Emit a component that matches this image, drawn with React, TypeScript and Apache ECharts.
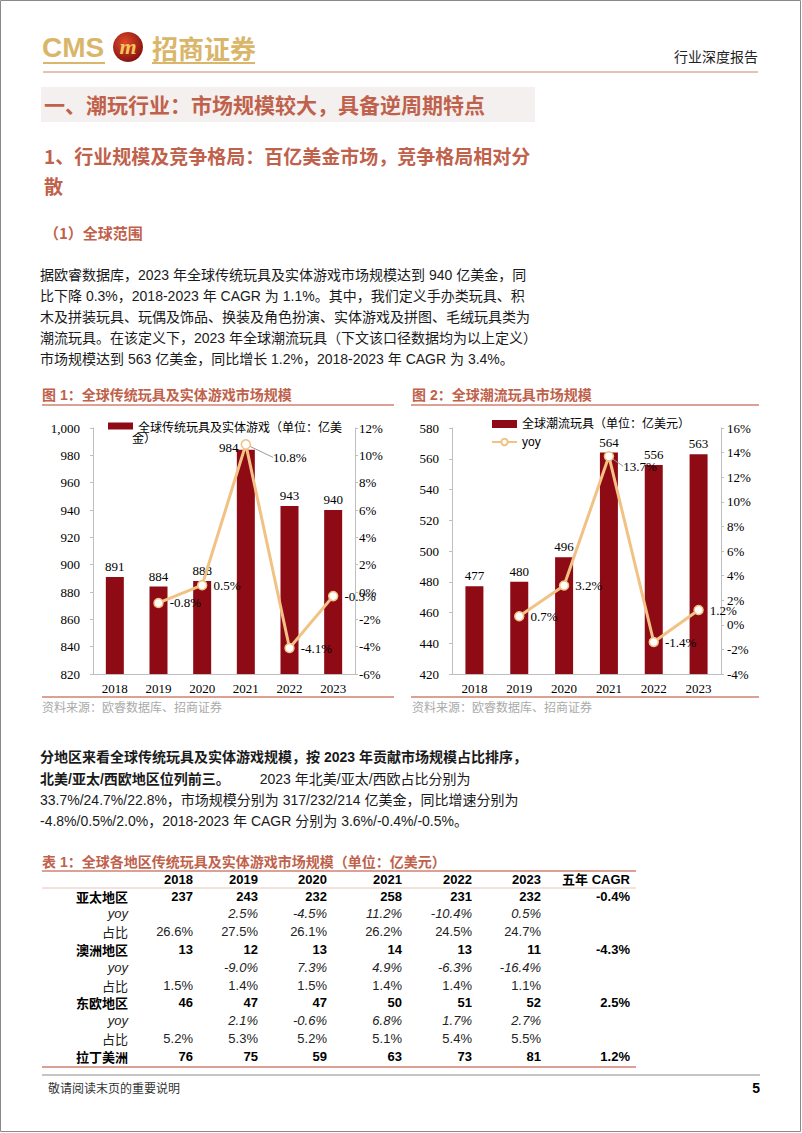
import React, { useEffect, useRef } from 'react';
import * as echarts from 'echarts';

const years = ['2018', '2019', '2020', '2021', '2022', '2023'];
const tradSize = [891, 884, 888, 984, 943, 940];
const tradYoy = [null, -0.8, 0.5, 10.8, -4.1, -0.3];
const trendSize = [477, 480, 496, 564, 556, 563];
const trendYoy = [null, 0.7, 3.2, 13.7, -1.4, 1.2];

const tableHeader = ['2018', '2019', '2020', '2021', '2022', '2023', '五年 CAGR'];
const regions = ['亚太地区', '澳洲地区', '东欧地区', '拉丁美洲'];
const regionSize = [
  [237, 243, 232, 258, 231, 232],
  [13, 12, 13, 14, 13, 11],
  [46, 47, 47, 50, 51, 52],
  [76, 75, 59, 63, 73, 81],
];
const regionYoy = [
  ['', '2.5%', '-4.5%', '11.2%', '-10.4%', '0.5%'],
  ['', '-9.0%', '7.3%', '4.9%', '-6.3%', '-16.4%'],
  ['', '2.1%', '-0.6%', '6.8%', '1.7%', '2.7%'],
];
const regionShare = [
  ['26.6%', '27.5%', '26.1%', '26.2%', '24.5%', '24.7%'],
  ['1.5%', '1.4%', '1.5%', '1.4%', '1.4%', '1.1%'],
  ['5.2%', '5.3%', '5.2%', '5.1%', '5.4%', '5.5%'],
];
const regionCagr = ['-0.4%', '-4.3%', '2.5%', '1.2%'];

const para1 = [
  '据欧睿数据库，2023 年全球传统玩具及实体游戏市场规模达到 940 亿美金，同',
  '比下降 0.3%，2018-2023 年 CAGR 为 1.1%。其中，我们定义手办类玩具、积',
  '木及拼装玩具、玩偶及饰品、换装及角色扮演、实体游戏及拼图、毛绒玩具类为',
  '潮流玩具。在该定义下，2023 年全球潮流玩具（下文该口径数据均为以上定义）',
  '市场规模达到 563 亿美金，同比增长 1.2%，2018-2023 年 CAGR 为 3.4%。',
];
const para2Bold1 = '分地区来看全球传统玩具及实体游戏规模，按 2023 年贡献市场规模占比排序，';
const para2Bold2 = '北美/亚太/西欧地区位列前三。';
const para2Norm2 = '2023 年北美/亚太/西欧占比分别为';
const para2Line3 = '33.7%/24.7%/22.8%，市场规模分别为 317/232/214 亿美金，同比增速分别为';
const para2Line4 = '-4.8%/0.5%/2.0%，2018-2023 年 CAGR 分别为 3.6%/-0.4%/-0.5%。';

const BAR1 = '全球传统玩具及实体游戏（单位：亿美金）';
const BAR2 = '全球潮流玩具（单位：亿美元）';

const FS = "'Liberation Sans','Noto Sans CJK SC',sans-serif";
const SERIF = "'Liberation Serif','Noto Sans CJK SC',serif";
const CJK = "'Noto Sans CJK SC',sans-serif";
const HEAD = '#C0614B';
const RULE = '#D08070';
const GOLD = '#D9B66A';
const BAR = '#8E0B16';
const LINE = '#F2C285';

function txt(text: string, x: number, y: number, o: any = {}) {
  return {
    type: 'text',
    silent: true,
    style: {
      text,
      x,
      y,
      fill: o.fill || '#1a1a1a',
      fontSize: o.size || 14,
      fontFamily: o.family || FS,
      fontWeight: o.weight || 'normal',
      fontStyle: o.style || 'normal',
      align: o.align || 'left',
      verticalAlign: 'middle',
      rich: o.rich,
    },
  };
}
function hline(x1: number, x2: number, y: number, color: string, w = 1) {
  return { type: 'line', silent: true, shape: { x1, y1: y, x2, y2: y }, style: { stroke: color, lineWidth: w } };
}

function buildGraphic() {
  const g: any[] = [];
  g.push({ type: 'rect', silent: true, shape: { x: 0.5, y: 0.5, width: 800, height: 1131 }, style: { fill: 'none', stroke: '#8a8a8a', lineWidth: 1 } });
  // header
  g.push(txt('CMS', 42, 47, { size: 28, weight: 'bold', fill: GOLD }));
  g.push(hline(43, 105, 63, GOLD, 2));
  g.push({
    type: 'circle', silent: true, shape: { cx: 128, cy: 47, r: 15 },
    style: { fill: new echarts.graphic.RadialGradient(0.4, 0.35, 0.75, [{ offset: 0, color: '#E04A2A' }, { offset: 1, color: '#7A0C0C' }]) },
  });
  g.push(txt('m', 128, 46, { size: 22, weight: 'bold', style: 'italic', fill: '#F2C65A', family: SERIF, align: 'center' }));
  g.push(txt('招商证券', 152, 47, { size: 26, weight: 'bold', fill: GOLD, family: CJK }));
  g.push(hline(152, 255, 63, GOLD, 2));
  g.push(txt('行业深度报告', 758, 56, { size: 14, align: 'right', fill: '#222', family: CJK }));
  g.push(hline(43, 758, 72, RULE, 1));
  // section
  g.push({ type: 'rect', silent: true, shape: { x: 41, y: 87, width: 494, height: 35 }, style: { fill: '#F4F0EF' } });
  g.push(txt('一、潮玩行业：市场规模较大，具备逆周期特点', 44, 104, { size: 21, weight: 'bold', fill: HEAD, family: CJK }));
  g.push(txt('1、行业规模及竞争格局：百亿美金市场，竞争格局相对分', 44, 155, { size: 19, weight: 'bold', fill: HEAD, family: CJK }));
  g.push(txt('散', 44, 185, { size: 19, weight: 'bold', fill: HEAD, family: CJK }));
  g.push(txt('（1）全球范围', 44, 232, { size: 15, weight: 'bold', fill: HEAD, family: CJK }));
  para1.forEach((l, i) => g.push(txt(l, 40, 275 + i * 21, { size: 14 })));
  // figure titles
  g.push(txt('图 1：全球传统玩具及实体游戏市场规模', 42, 395, { size: 14, weight: 'bold', fill: HEAD }));
  g.push(hline(42, 394, 405, RULE, 1.5));
  g.push(txt('图 2：全球潮流玩具市场规模', 412, 395, { size: 14, weight: 'bold', fill: HEAD }));
  g.push(hline(411, 759, 405, RULE, 1.5));
  g.push(txt('金）', 132, 437, { size: 12, fill: '#000', family: CJK }));
  g.push(hline(42, 394, 697, RULE, 1.5));
  g.push(hline(411, 759, 697, RULE, 1.5));
  g.push(txt('资料来源：欧睿数据库、招商证券', 42, 706, { size: 12, fill: '#aaaaaa', family: CJK }));
  g.push(txt('资料来源：欧睿数据库、招商证券', 412, 706, { size: 12, fill: '#aaaaaa', family: CJK }));
  // paragraph 2
  g.push(txt(para2Bold1, 40, 757, { size: 14, weight: 'bold' }));
  g.push(txt('{b|' + para2Bold2 + '}{n|' + para2Norm2 + '}', 40, 779, {
    size: 14,
    rich: {
      b: { fontWeight: 'bold', fontSize: 14, fontFamily: FS, fill: '#1a1a1a' },
      n: { fontWeight: 'normal', fontSize: 14, fontFamily: FS, fill: '#1a1a1a', padding: [0, 0, 0, 30] },
    },
  }));
  g.push(txt(para2Line3, 40, 800, { size: 14 }));
  g.push(txt(para2Line4, 40, 821, { size: 14 }));
  // table
  g.push(txt('表 1：全球各地区传统玩具及实体游戏市场规模（单位：亿美元）', 42, 862, { size: 14, weight: 'bold', fill: HEAD }));
  g.push(hline(42, 636, 871, RULE, 1.5));
  const colX = [193, 258, 327, 402, 472, 541, 630];
  const labX = 128;
  tableHeader.forEach((h, i) => g.push(txt(h, colX[i], 879, { size: 13, weight: 'bold', align: 'right', fill: '#000' })));
  g.push(hline(42, 636, 888, '#E8C4B8', 1));
  let row = 0;
  const rowY = (r: number) => 896 + r * 17.8;
  regions.forEach((reg, ri) => {
    const y = rowY(row);
    g.push(txt(reg, labX, y, { size: 13, weight: 'bold', align: 'right', fill: '#000', family: CJK }));
    regionSize[ri].forEach((v, ci) => g.push(txt(String(v), colX[ci], y, { size: 13, weight: 'bold', align: 'right', fill: '#000' })));
    g.push(txt(regionCagr[ri], colX[6], y, { size: 13, weight: 'bold', align: 'right', fill: '#000' }));
    row++;
    if (ri < regionYoy.length) {
      const y2 = rowY(row);
      g.push(txt('yoy', labX, y2, { size: 13, style: 'italic', align: 'right', fill: '#222' }));
      regionYoy[ri].forEach((v, ci) => v && g.push(txt(v, colX[ci], y2, { size: 13, style: 'italic', align: 'right', fill: '#222' })));
      row++;
      const y3 = rowY(row);
      g.push(txt('占比', labX, y3, { size: 13, align: 'right', fill: '#222', family: CJK }));
      regionShare[ri].forEach((v, ci) => g.push(txt(v, colX[ci], y3, { size: 13, align: 'right', fill: '#222' })));
      row++;
    }
  });
  g.push(hline(42, 636, 1067, RULE, 1.5));
  // footer
  g.push(hline(42, 760, 1075, '#8a8a8a', 1));
  g.push(txt('敬请阅读末页的重要说明', 48, 1087, { size: 12, fill: '#333', family: CJK }));
  g.push(txt('5', 760, 1088, { size: 14, weight: 'bold', align: 'right', fill: '#000' }));
  return g;
}

const axisLabelStyle = { fontFamily: SERIF, fontSize: 13, color: '#000' };
const axisLineStyle = { show: true, onZero: false, lineStyle: { color: '#bfbfbf', width: 1 } };

function makeY(grid: number, min: number, max: number, interval: number, pos: string, pct: boolean, margin: number) {
  return {
    type: 'value', gridIndex: grid, min, max, interval, position: pos,
    axisLine: axisLineStyle,
    axisTick: { show: true, length: 3, lineStyle: { color: '#bfbfbf' } },
    splitLine: { show: false },
    axisLabel: {
      ...axisLabelStyle, margin,
      formatter: (v: number) => (pct ? v + '%' : v.toLocaleString('en-US')),
    },
  };
}

function barSeries(name: string, data: number[], axisIdx: number, special: number, offset: number[]) {
  return {
    type: 'bar', name, xAxisIndex: axisIdx, yAxisIndex: axisIdx * 2, barWidth: 18,
    itemStyle: { color: BAR },
    label: { show: true, position: 'top', distance: 4, ...axisLabelStyle },
    data: data.map((v, i) => (i === special ? { value: v, label: { offset } } : v)),
    z: 2,
  };
}

function lineSeries(name: string, data: (number | null)[], axisIdx: number, special: number, dx: number, dy: number) {
  return {
    type: 'line', name, xAxisIndex: axisIdx, yAxisIndex: axisIdx * 2 + 1,
    data: data.map((v, i) => (i === special ? { value: v, labelLine: { show: true, lineStyle: { color: '#999', width: 1 } } } : v === null ? '-' : v)),
    lineStyle: { color: LINE, width: 3 },
    symbol: 'circle', symbolSize: 9,
    itemStyle: { color: '#fff', borderColor: LINE, borderWidth: 1.5 },
    label: {
      show: true, position: 'right', distance: 6, ...axisLabelStyle,
      formatter: (p: any) => Number(p.value).toFixed(1) + '%',
    },
    labelLayout: (p: any) => (p.dataIndex === special ? { dx, dy } : {}),
    z: 5,
  };
}

const option: any = {
  animation: false,
  backgroundColor: '#fff',
  grid: [
    { left: 93, top: 428, width: 262, height: 246 },
    { left: 452, top: 428, width: 269, height: 246 },
  ],
  xAxis: [0, 1].map((gi) => ({
    type: 'category', gridIndex: gi, data: years,
    axisLine: axisLineStyle, axisTick: { show: false },
    axisLabel: { ...axisLabelStyle, margin: 8 },
  })),
  yAxis: [
    makeY(0, 820, 1000, 20, 'left', false, 13),
    makeY(0, -6, 12, 2, 'right', true, 4),
    makeY(1, 420, 580, 20, 'left', false, 13),
    makeY(1, -4, 16, 2, 'right', true, 6),
  ],
  legend: [
    {
      left: 103, top: 414, itemWidth: 25, itemHeight: 7, data: [{ name: BAR1, icon: 'rect' }],
      formatter: () => '全球传统玩具及实体游戏（单位：亿美',
      textStyle: { fontFamily: CJK, fontSize: 12, color: '#000', lineHeight: 14 },
      selectedMode: false,
    },
    {
      left: 486, top: 412, orient: 'vertical', itemGap: 4, itemWidth: 25, itemHeight: 8,
      data: [{ name: BAR2, icon: 'rect' }, { name: 'yoy' }],
      textStyle: { fontFamily: FS, fontSize: 12, color: '#000', lineHeight: 14 },
      selectedMode: false,
    },
  ],
  series: [
    barSeries(BAR1, tradSize, 0, 3, [-17, 8]),
    lineSeries('同比', tradYoy, 0, 3, 16, 13),
    barSeries(BAR2, trendSize, 1, -1, [0, 0]),
    lineSeries('yoy', trendYoy, 1, 3, 3, 10),
  ],
  graphic: buildGraphic(),
};

export default function App() {
  const ref = useRef<HTMLDivElement>(null);
  useEffect(() => {
    document.body.style.margin = '0';
    const chart = echarts.init(ref.current!, null, { renderer: 'svg' });
    chart.setOption(option);
    return () => chart.dispose();
  }, []);
  return <div ref={ref} style={{ width: 802, height: 1133 }} />;
}
